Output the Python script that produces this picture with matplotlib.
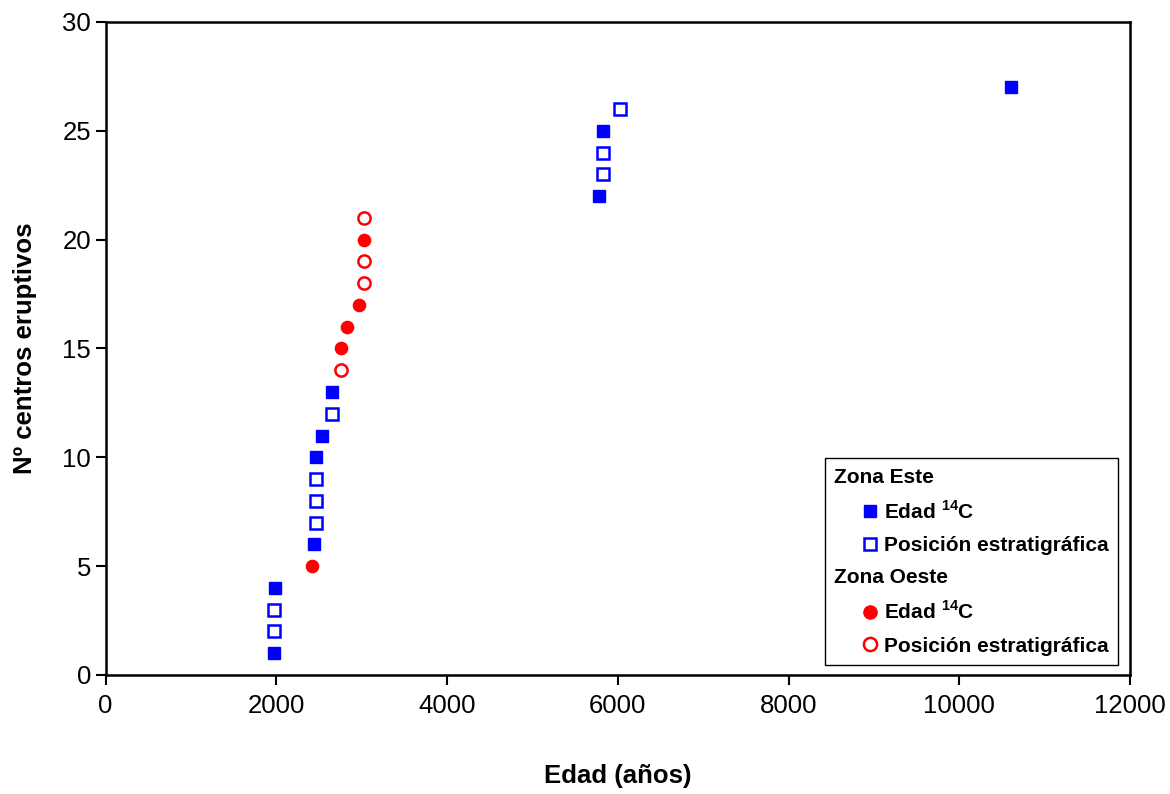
import numpy as np
import matplotlib.pyplot as plt
from matplotlib.lines import Line2D
from matplotlib.legend_handler import HandlerLine2D

plt.rcParams['font.family'] = ['Liberation Sans', 'DejaVu Sans']
plt.rcParams['mathtext.fontset'] = 'custom'
plt.rcParams['mathtext.rm'] = 'Liberation Sans'
plt.rcParams['mathtext.bf'] = 'Liberation Sans:bold'

# Zona Este - edad 14C (cuadrado relleno)
este_c14_edad = [1975, 1985, 2445, 2470, 2535, 2655, 5785, 5830, 10605]
este_c14_n = [1, 4, 6, 10, 11, 13, 22, 25, 27]
# Zona Este - posición estratigráfica (cuadrado vacío)
este_pos_edad = [1970, 1970, 2465, 2465, 2465, 2650, 5830, 5830, 6030]
este_pos_n = [2, 3, 7, 8, 9, 12, 23, 24, 26]
# Zona Oeste - edad 14C (círculo relleno)
oeste_c14_edad = [2420, 2760, 2830, 2970, 3030]
oeste_c14_n = [5, 15, 16, 17, 20]
# Zona Oeste - posición estratigráfica (círculo vacío)
oeste_pos_edad = [2760, 3030, 3030, 3030]
oeste_pos_n = [14, 18, 19, 21]

azul = '#0000ff'
rojo = '#ff0000'


class MarcadorDerecha(HandlerLine2D):
    # coloca el marcador cerca del texto, dejando sitio para los encabezados
    def get_xdata(self, legend, xdescent, ydescent, width, height, fontsize):
        m = -xdescent + width - 0.2 * fontsize
        return [m - 1, m + 1], [m]


fig = plt.figure(figsize=(11.7, 7.94), dpi=100)
ax = fig.add_axes([0.0903, 0.1499, 0.8755, 0.8224])

ax.plot(este_c14_edad, este_c14_n, 's', ms=8.5, color=azul, mec=azul, ls='none')
ax.plot(este_pos_edad, este_pos_n, 's', ms=8.5, mfc='white', mec=azul, mew=1.8, ls='none')
ax.plot(oeste_c14_edad, oeste_c14_n, 'o', ms=8.8, color=rojo, mec=rojo, ls='none')
ax.plot(oeste_pos_edad, oeste_pos_n, 'o', ms=8.8, mfc='white', mec=rojo, mew=1.8, ls='none')

ax.set_xlim(0, 12000)
ax.set_ylim(0, 30)
ax.set_xticks(np.arange(0, 12001, 2000))
ax.set_yticks(np.arange(0, 31, 5))
ax.tick_params(labelsize=18.5, direction='out', length=7, width=1.5)
ax.tick_params(axis='x', pad=7)
for s in ax.spines.values():
    s.set_linewidth(1.8)
    s.set_color('black')

ax.set_xlabel('Edad (años)', fontsize=18.5, fontweight='bold', labelpad=33)
ax.set_ylabel('Nº centros eruptivos', fontsize=18.5, fontweight='bold', labelpad=18.5)

# leyenda con encabezados de zona
vacio = Line2D([], [], ls='none', marker=None)
handles = [
    vacio,
    Line2D([], [], ls='none', marker='s', ms=8, color=azul),
    Line2D([], [], ls='none', marker='s', ms=8, mfc='white', mec=azul, mew=1.8),
    vacio,
    Line2D([], [], ls='none', marker='o', ms=9.5, color=rojo),
    Line2D([], [], ls='none', marker='o', ms=9.5, mfc='white', mec=rojo, mew=1.8),
]
labels = ['Zona Este', r'Edad $^{\mathbf{14}}$C', 'Posición estratigráfica',
          'Zona Oeste', r'Edad $^{\mathbf{14}}$C', 'Posición estratigráfica']
leg = ax.legend(handles, labels, loc='lower right', bbox_to_anchor=(0.9883, 0.0153),
                frameon=True, fancybox=False, edgecolor='black', framealpha=1,
                prop={'weight': 'bold', 'size': 15}, handlelength=1.94,
                handletextpad=0.45, labelspacing=0.64, borderpad=0.45,
                borderaxespad=0, handler_map={Line2D: MarcadorDerecha()})
leg.get_frame().set_linewidth(1.0)
desplaz = (1.94 + 0.45) * 15 * 100 / 72
for i in (0, 3):
    leg.get_texts()[i].set_position((-desplaz, 0))

fig.savefig('out.png', dpi=100)
